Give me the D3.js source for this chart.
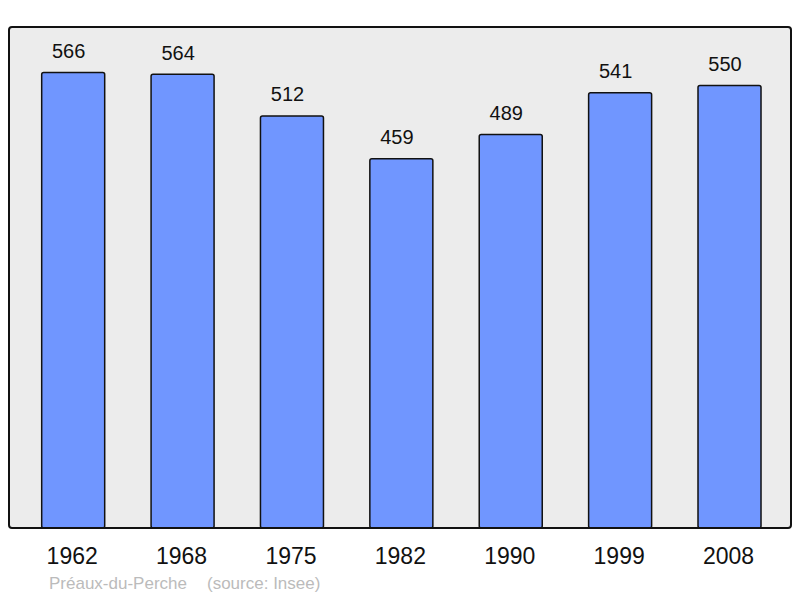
<!DOCTYPE html>
<html><head><meta charset="utf-8">
<script src="https://cdn.jsdelivr.net/npm/d3@7"></script>
<style>body{margin:0;background:#fff}svg{display:block}</style>
</head><body>
<script>
const years = ["1962","1968","1975","1982","1990","1999","2008"];
const population = [566,564,512,459,489,541,550];
const commune = "Préaux-du-Perche";
const source = "(source: Insee)";

const W = 800, H = 598;
const svg = d3.select("body").append("svg").attr("width", W).attr("height", H);
const plot = {x0: 9, x1: 791, y0: 27, y1: 528};

svg.append("rect").attr("x", plot.x0).attr("y", plot.y0)
  .attr("width", plot.x1 - plot.x0).attr("height", plot.y1 - plot.y0)
  .attr("rx", 3).attr("fill", "#ececec");

const x = d3.scaleBand().domain(years).range([18.5, 784.2]).paddingInner(0.424).paddingOuter(0.212);
const y = d3.scaleLinear().domain([0, d3.max(population) * 1.1]).range([plot.y1, plot.y0]);

const g = svg.append("g");
g.selectAll("rect.bar").data(years).join("rect").attr("class", "bar")
  .attr("x", d => x(d)).attr("width", x.bandwidth())
  .attr("y", (d, i) => y(population[i])).attr("height", (d, i) => y(0) - y(population[i]))
  .attr("rx", 2)
  .attr("fill", "#7096ff").attr("stroke", "#111").attr("stroke-width", 1.5);

g.selectAll("text.val").data(years).join("text").attr("class", "val")
  .attr("x", d => x(d) + x.bandwidth() / 2 - 4.5)
  .attr("y", (d, i) => y(population[i]) - 14.5)
  .attr("text-anchor", "middle")
  .attr("font-family", "Liberation Sans, Arial, sans-serif").attr("font-size", 20)
  .attr("fill", "#111").text((d, i) => population[i]);

svg.append("rect").attr("x", plot.x0).attr("y", plot.y0)
  .attr("width", plot.x1 - plot.x0).attr("height", plot.y1 - plot.y0)
  .attr("rx", 3).attr("fill", "none").attr("stroke", "#111").attr("stroke-width", 2);

const xAxis = d3.axisBottom(x).tickSize(0).tickPadding(0);
const ax = svg.append("g").attr("transform", `translate(0,${plot.y1})`).call(xAxis);
ax.select(".domain").remove();
ax.selectAll("text").attr("font-family", "Liberation Sans, Arial, sans-serif")
  .attr("font-size", 23).attr("fill", "#111").attr("dy", null).attr("y", 36)
  .attr("dx", -1);

svg.append("text").attr("x", 49).attr("y", 589)
  .attr("font-family", "Liberation Sans, Arial, sans-serif").attr("font-size", 17)
  .attr("fill", "#bbb").text(commune);
svg.append("text").attr("x", 207).attr("y", 589)
  .attr("font-family", "Liberation Sans, Arial, sans-serif").attr("font-size", 17)
  .attr("fill", "#bbb").text(source);
</script>
</body></html>
